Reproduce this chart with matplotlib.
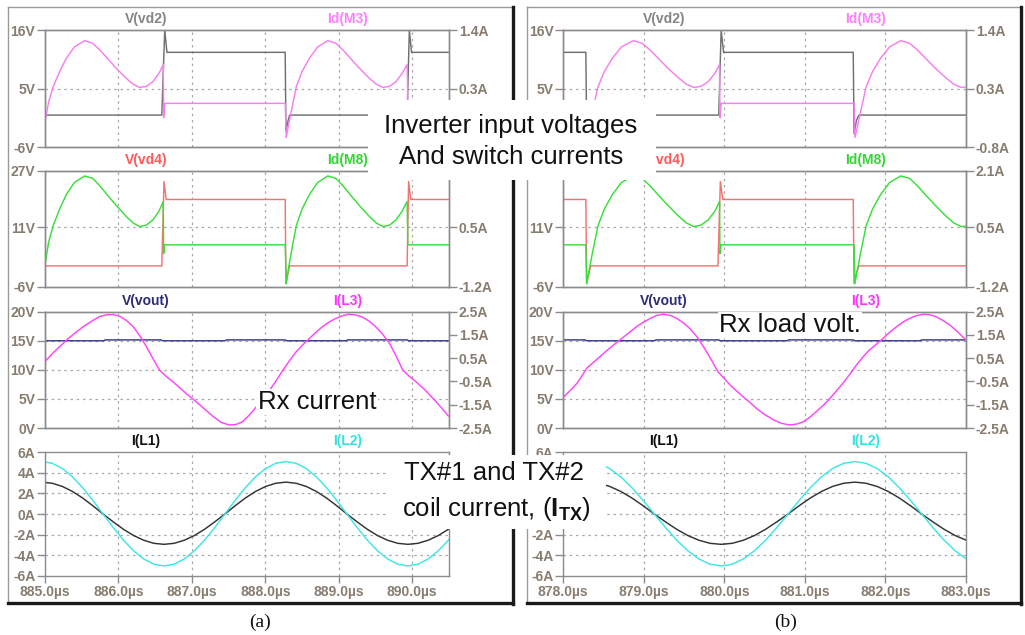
import numpy as np
import matplotlib
matplotlib.use("Agg")
import matplotlib.pyplot as plt
from matplotlib.patches import Rectangle
from matplotlib.lines import Line2D

plt.rcParams['font.family'] = ['Liberation Sans', 'DejaVu Sans']
plt.rcParams['mathtext.fontset'] = 'custom'
plt.rcParams['mathtext.rm'] = 'Liberation Sans'
plt.rcParams['mathtext.bf'] = 'Liberation Sans:bold'
plt.rcParams['mathtext.it'] = 'Liberation Sans:italic'

# ---------------- data : panel (a) ----------------
xlim_a = (885.0, 890.5)
xticks_a = [885.0, 886.0, 887.0, 888.0, 889.0, 890.0]
xticklabels_a = ["885.0µs", "886.0µs", "887.0µs", "888.0µs", "889.0µs", "890.0µs"]

vd2_t_a = [885.0, 886.59, 886.63, 886.66, 888.27, 888.28, 888.31, 888.33, 889.93, 889.96, 889.99, 890.5]
vd2_v_a = [0.0, 0.0, 16.0, 11.8, 11.8, -3.0, -1.0, 0.0, 0.0, 16.0, 11.8, 11.8]

m3_t_a = [885.00, 885.05, 885.11, 885.20, 885.29, 885.40, 885.54, 885.65, 885.75, 885.86, 885.97,
          886.10, 886.20, 886.29, 886.38, 886.47, 886.55, 886.61, 886.615, 886.63,
          888.27, 888.285, 888.30, 888.35, 888.42, 888.50, 888.60, 888.71, 888.85, 888.96, 889.06,
          889.17, 889.28, 889.41, 889.51, 889.60, 889.69, 889.78, 889.86, 889.93, 889.94, 890.50]
m3_v_a = [-0.32, 0.05, 0.33, 0.62, 0.87, 1.08, 1.20, 1.15, 1.02, 0.85, 0.68,
          0.50, 0.38, 0.32, 0.34, 0.43, 0.58, 0.75, -0.25, 0.02,
          0.02, -0.62, -0.50, -0.15, 0.33, 0.62, 0.87, 1.08, 1.20, 1.15, 1.02,
          0.85, 0.68, 0.50, 0.38, 0.32, 0.34, 0.43, 0.58, 0.75, 0.02, 0.02]

vd4_t_a = [885.0, 886.59, 886.62, 886.65, 888.27, 888.28, 888.31, 888.33, 889.93, 889.95, 889.98, 890.5]
vd4_v_a = [0.0, 0.0, 24.0, 18.9, 18.9, -5.0, -2.0, 0.0, 0.0, 24.0, 18.9, 18.9]

m8_t_a = m3_t_a
m8_v_a = [-0.57, 0.08, 0.54, 1.02, 1.43, 1.77, 1.96, 1.89, 1.67, 1.39, 1.12,
          0.82, 0.62, 0.52, 0.56, 0.71, 0.95, 1.23, -0.25, 0.0,
          0.0, -1.11, -0.85, -0.25, 0.54, 1.02, 1.43, 1.77, 1.96, 1.89, 1.67,
          1.39, 1.12, 0.82, 0.62, 0.52, 0.56, 0.71, 0.95, 1.23, 0.0, 0.0]

vout_t_a = [885.0, 885.80, 885.82, 886.58, 886.60, 887.45, 887.47, 888.27, 888.29, 889.10, 889.12, 889.93, 889.95, 890.5]
vout_v_a = [15.0, 15.0, 15.15, 15.15, 15.0, 15.0, 15.15, 15.15, 15.0, 15.0, 15.15, 15.15, 15.0, 15.0]

l3_t_a = [885.01, 885.10, 885.20, 885.31, 885.43, 885.55, 885.66, 885.75, 885.84, 885.93, 886.02,
          886.11, 886.20, 886.29, 886.38, 886.47, 886.56, 886.65, 886.74, 886.92, 887.11,
          887.29, 887.40, 887.51, 887.60, 887.69, 887.78, 887.88, 887.97, 888.06, 888.15,
          888.24, 888.33, 888.42, 888.51, 888.60, 888.69, 888.78, 888.87, 888.96, 889.05,
          889.14, 889.23, 889.32, 889.41, 889.50, 889.60, 889.69, 889.78, 889.87, 889.96,
          890.05, 890.17, 890.28, 890.39, 890.49]
l3_v_a = [0.39, 0.70, 1.00, 1.33, 1.64, 1.92, 2.14, 2.30, 2.37, 2.38, 2.30,
          2.12, 1.86, 1.47, 1.00, 0.48, -0.01, -0.28, -0.51, -1.01, -1.51,
          -2.01, -2.26, -2.37, -2.35, -2.23, -1.95, -1.58, -1.23, -0.87, -0.45,
          -0.01, 0.40, 0.78, 1.08, 1.35, 1.62, 1.86, 2.06, 2.21, 2.33,
          2.39, 2.36, 2.27, 2.10, 1.86, 1.52, 1.14, 0.60, -0.01, -0.28,
          -0.51, -0.85, -1.22, -1.60, -1.98]

l_t_a = np.linspace(884.96, 890.632, 42)
l1_v_a = [3.10, 2.99, 2.68, 2.19, 1.55, 0.80, 0.00, -0.76, -1.48, -2.09, -2.55, -2.85,
          -2.95, -2.85, -2.55, -2.09, -1.48, -0.76, 0.00, 0.80, 1.55, 2.19, 2.68, 2.99,
          3.10, 2.99, 2.68, 2.19, 1.55, 0.80, 0.00, -0.76, -1.48, -2.09, -2.55, -2.85,
          -2.95, -2.85, -2.55, -2.09, -1.48, -0.76]
l2_v_a = [5.10, 4.93, 4.42, 3.61, 2.55, 1.32, 0.00, -1.31, -2.53, -3.57, -4.37, -4.88,
          -5.05, -4.88, -4.37, -3.57, -2.53, -1.31, 0.00, 1.32, 2.55, 3.61, 4.42, 4.93,
          5.10, 4.93, 4.42, 3.61, 2.55, 1.32, 0.00, -1.31, -2.53, -3.57, -4.37, -4.88,
          -5.05, -4.88, -4.37, -3.57, -2.53, -1.31]

# ---------------- data : panel (b) ----------------
xlim_b = (878.0, 883.0)
xticks_b = [878.0, 879.0, 880.0, 881.0, 882.0, 883.0]
xticklabels_b = ["878.0µs", "879.0µs", "880.0µs", "881.0µs", "882.0µs", "883.0µs"]

vd2_t_b = [878.0, 878.28, 878.29, 878.32, 878.34, 879.93, 879.96, 879.99, 881.60, 881.61, 881.64, 881.67, 883.0]
vd2_v_b = [11.8, 11.8, -3.0, -1.0, 0.0, 0.0, 16.0, 11.8, 11.8, -3.5, -1.0, 0.0, 0.0]

m3_t_b = [878.00, 878.28, 878.29, 878.31, 878.36, 878.43, 878.51, 878.61, 878.72, 878.87, 878.98,
          879.08, 879.19, 879.30, 879.43, 879.53, 879.62, 879.71, 879.80, 879.88, 879.94, 879.945,
          879.96, 881.61, 881.62, 881.64, 881.69, 881.76, 881.84, 881.94, 882.05, 882.19, 882.30,
          882.40, 882.51, 882.62, 882.75, 882.85, 882.94, 883.00]
m3_v_b = [0.02, 0.02, -0.62, -0.50, -0.15, 0.33, 0.62, 0.87, 1.08, 1.20, 1.15,
          1.02, 0.85, 0.68, 0.50, 0.38, 0.32, 0.34, 0.43, 0.58, 0.75, -0.25,
          0.02, 0.02, -0.62, -0.50, -0.15, 0.33, 0.62, 0.87, 1.08, 1.20, 1.15,
          1.02, 0.85, 0.68, 0.50, 0.38, 0.32, 0.33]

vd4_t_b = [878.0, 878.28, 878.29, 878.32, 878.34, 879.92, 879.95, 879.98, 881.60, 881.61, 881.64, 881.67, 883.0]
vd4_v_b = [18.9, 18.9, -5.0, -2.0, 0.0, 0.0, 24.0, 18.9, 18.9, -5.0, -2.0, 0.0, 0.0]

m8_t_b = m3_t_b
m8_v_b = [0.0, 0.0, -1.11, -0.85, -0.25, 0.54, 1.02, 1.43, 1.77, 1.96, 1.89,
          1.67, 1.39, 1.12, 0.82, 0.62, 0.52, 0.56, 0.71, 0.95, 1.23, -0.25,
          0.0, 0.0, -1.11, -0.85, -0.25, 0.54, 1.02, 1.43, 1.77, 1.96, 1.89,
          1.67, 1.39, 1.12, 0.82, 0.62, 0.52, 0.53]

vout_t_b = [878.0, 878.27, 878.29, 879.13, 879.15, 879.93, 879.95, 880.78, 880.80, 881.60, 881.62, 882.43, 882.45, 883.0]
vout_v_b = [15.15, 15.15, 15.0, 15.0, 15.15, 15.15, 15.0, 15.0, 15.15, 15.15, 15.0, 15.0, 15.15, 15.15]

l3_t_b = [878.01, 878.09, 878.17, 878.23, 878.29, 878.40, 878.50, 878.60, 878.70, 878.81, 878.91,
          879.00, 879.08, 879.16, 879.24, 879.33, 879.41, 879.49, 879.57, 879.66, 879.74,
          879.83, 879.92, 880.00, 880.07, 880.15, 880.23, 880.32, 880.40, 880.50, 880.61,
          880.71, 880.81, 880.90, 880.98, 881.06, 881.14, 881.23, 881.31, 881.39, 881.47,
          881.56, 881.64, 881.72, 881.80, 881.89, 881.97, 882.05, 882.14, 882.22, 882.30,
          882.38, 882.47, 882.55, 882.63, 882.71, 882.80, 882.90, 883.00]
l3_v_b = [-1.15, -0.87, -0.58, -0.27, 0.07, 0.40, 0.71, 1.00, 1.28, 1.58, 1.86,
          2.06, 2.21, 2.34, 2.39, 2.34, 2.21, 2.02, 1.78, 1.42, 1.00,
          0.48, -0.08, -0.38, -0.65, -0.90, -1.15, -1.41, -1.66, -1.92, -2.15,
          -2.30, -2.37, -2.33, -2.23, -2.04, -1.80, -1.52, -1.23, -0.91, -0.58,
          -0.18, 0.21, 0.55, 0.85, 1.11, 1.35, 1.61, 1.86, 2.06, 2.21,
          2.33, 2.39, 2.37, 2.29, 2.13, 1.93, 1.62, 1.28]

l_t_b = np.linspace(877.885, 883.003, 38)
l1_v_b = [2.19, 2.68, 2.99, 3.10, 2.99, 2.68, 2.19, 1.55, 0.80, 0.00, -0.76, -1.48, -2.09,
          -2.55, -2.85, -2.95, -2.85, -2.55, -2.09, -1.48, -0.76, 0.00, 0.80, 1.55, 2.19,
          2.68, 2.99, 3.10, 2.99, 2.68, 2.19, 1.55, 0.80, 0.00, -0.76, -1.48, -2.09, -2.55]
l2_v_b = [3.61, 4.42, 4.93, 5.10, 4.93, 4.42, 3.61, 2.55, 1.32, 0.00, -1.31, -2.53, -3.57,
          -4.37, -4.88, -5.05, -4.88, -4.37, -3.57, -2.53, -1.31, 0.00, 1.32, 2.55, 3.61,
          4.42, 4.93, 5.10, 4.93, 4.42, 3.61, 2.55, 1.32, 0.00, -1.31, -2.53, -3.57, -4.37]

# ---------------- axis scales / tick labels ----------------
pane_left_lim = [(-6, 16), (-6, 27), (0, 20), (-6, 6)]
pane_left_ticks = [[-6, 5, 16], [-6, 11, 27], [0, 5, 10, 15, 20], [-6, -4, -2, 0, 2, 4, 6]]
pane_left_labels = [["-6V", "5V", "16V"], ["-6V", "11V", "27V"],
                    ["0V", "5V", "10V", "15V", "20V"],
                    ["-6A", "-4A", "-2A", "0A", "2A", "4A", "6A"]]
pane_right_lim = [(-0.8, 1.4), (-1.2, 2.1), (-2.5, 2.5), None]
pane_right_ticks = [[-0.8, 0.3, 1.4], [-1.2, 0.5, 2.1], [-2.5, -1.5, -0.5, 0.5, 1.5, 2.5], None]
pane_right_labels = [["-0.8A", "0.3A", "1.4A"], ["-1.2A", "0.5A", "2.1A"],
                     ["-2.5A", "-1.5A", "-0.5A", "0.5A", "1.5A", "2.5A"], None]
pane_grid = [[5], [11], [5, 10, 15], [-4, -2, 0, 2, 4]]
pane_names = [("V(vd2)", "Id(M3)"), ("V(vd4)", "Id(M8)"), ("V(vout)", "I(L3)"), ("I(L1)", "I(L2)")]
name_colors = [("#858585", "#ff80ff"), ("#ff5a5a", "#33d633"), ("#2b2b7a", "#ff33ff"), ("#111111", "#33e3e3")]
line_colors = [("#707070", "#f77ef2"), ("#f47272", "#3ade3a"), ("#3a3a88", "#ff44ff"), ("#333333", "#3ee6e6")]

# ---------------- layout ----------------
W, H = 1025, 635
fig = plt.figure(figsize=(W / 100, H / 100), dpi=100)
fig.patch.set_facecolor("white")


def rect(x0, y0, x1, y1):
    return [x0 / W, 1 - y1 / H, (x1 - x0) / W, (y1 - y0) / H]


def fline(x0, y0, x1, y1, **kw):
    fig.add_artist(Line2D([x0 / W, x1 / W], [1 - y0 / H, 1 - y1 / H], **kw))


TICKC = "#877c70"
SPINEC = "#8c8c8c"
GRIDC = "#a8a8a8"
TICKFS = 10

# panel frames
for (fx0, fx1) in [(8, 513), (527, 1021)]:
    fline(fx0, 7, fx1, 7, color="#9a9a9a", lw=1.0, zorder=0)
    fline(fx0, 7, fx0, 603, color="#9a9a9a", lw=1.0, zorder=0)
    fline(fx1, 7, fx1, 604, color="#1a1a1a", lw=2.4, zorder=0)
    fline(fx0, 603, fx1, 603, color="#1a1a1a", lw=2.4, zorder=0)

pane_y = [(30, 147), (171, 287), (311.7, 428), (452.3, 575.7)]

panels = [
    dict(x0=45, x1=449, xlim=xlim_a, xticks=xticks_a, xlabels=xticklabels_a,
         series=[((vd2_t_a, vd2_v_a), (m3_t_a, m3_v_a)),
                 ((vd4_t_a, vd4_v_a), (m8_t_a, m8_v_a)),
                 ((vout_t_a, vout_v_a), (l3_t_a, l3_v_a)),
                 ((l_t_a, l1_v_a), (l_t_a, l2_v_a))]),
    dict(x0=563.3, x1=966, xlim=xlim_b, xticks=xticks_b, xlabels=xticklabels_b,
         series=[((vd2_t_b, vd2_v_b), (m3_t_b, m3_v_b)),
                 ((vd4_t_b, vd4_v_b), (m8_t_b, m8_v_b)),
                 ((vout_t_b, vout_v_b), (l3_t_b, l3_v_b)),
                 ((l_t_b, l1_v_b), (l_t_b, l2_v_b))]),
]

tick_texts = []
for p in panels:
    for i, (y0, y1) in enumerate(pane_y):
        ax = fig.add_axes(rect(p["x0"], y0, p["x1"], y1))
        ax.set_facecolor("none")
        ax.set_xlim(*p["xlim"])
        ax.set_ylim(*pane_left_lim[i])
        for s in ax.spines.values():
            s.set_color(SPINEC)
            s.set_linewidth(1.0)
        ax.set_yticks(pane_left_ticks[i])
        tick_texts += ax.set_yticklabels(pane_left_labels[i], fontweight="bold", color=TICKC, fontsize=TICKFS)
        ax.tick_params(axis="y", direction="out", length=6, width=1, color=SPINEC, pad=1)
        ax.set_xticks(p["xticks"])
        if i == 3:
            ax.set_xticklabels(p["xlabels"], fontweight="bold", color=TICKC, fontsize=TICKFS)
            ax.tick_params(axis="x", direction="out", length=5, width=1, color=SPINEC, pad=2)
        else:
            ax.tick_params(axis="x", length=0, labelbottom=False)
        for xv in p["xticks"]:
            ax.axvline(xv, color=GRIDC, lw=0.9, ls=(0, (2, 3)), zorder=0.5)
        for yv in pane_grid[i]:
            ax.axhline(yv, color=GRIDC, lw=0.9, ls=(0, (2, 3)), zorder=0.5)

        (lt, lv), (rt, rv) = p["series"][i]
        c_left, c_right = line_colors[i]
        ax.plot(lt, lv, color=c_left, lw=1.05, zorder=2)
        if pane_right_lim[i] is not None:
            axr = ax.twinx()
            axr.set_ylim(*pane_right_lim[i])
            axr.set_yticks(pane_right_ticks[i])
            tick_texts += axr.set_yticklabels(pane_right_labels[i], fontweight="bold", color=TICKC, fontsize=TICKFS)
            axr.tick_params(axis="y", direction="out", length=6, width=1, color=SPINEC, pad=1)
            for s in axr.spines.values():
                s.set_color(SPINEC)
                s.set_linewidth(1.0)
            axr.plot(rt, rv, color=c_right, lw=1.05, zorder=2)
        else:
            ax.plot(rt, rv, color=c_right, lw=1.05, zorder=2)

        n_left, n_right = pane_names[i]
        cl, cr = name_colors[i]
        ax.annotate(n_left, xy=(0.25, 1.0), xycoords="axes fraction", xytext=(0, 5),
                    textcoords="offset points", ha="center", va="baseline",
                    fontsize=10, fontweight="bold", color=cl)
        ax.annotate(n_right, xy=(0.75, 1.0), xycoords="axes fraction", xytext=(0, 5),
                    textcoords="offset points", ha="center", va="baseline",
                    fontsize=10, fontweight="bold", color=cr)

# ---------------- overlay annotation boxes ----------------
boxes_px = [(368, 100, 656, 180), (389, 455, 606, 529)]
for (bx0, by0, bx1, by1) in boxes_px:
    fig.add_artist(Rectangle((bx0 / W, 1 - by1 / H), (bx1 - bx0) / W, (by1 - by0) / H,
                             transform=fig.transFigure, facecolor="white", edgecolor="none", zorder=20))

big = dict(fontsize=18.5, color="#111111", ha="center", va="center", zorder=30)
fig.text(511 / W, 1 - 126 / H, "Inverter input voltages", **big)
fig.text(511 / W, 1 - 157 / H, "And switch currents", **big)
fig.text(494 / W, 1 - 473 / H, "TX#1 and TX#2", **big)
fig.text(496 / W, 1 - 509 / H, r"coil current, ($\mathbf{I}_{\mathbf{TX}}$)", **big)
fig.text(317 / W, 1 - 402 / H, "Rx current",
         bbox=dict(facecolor="white", edgecolor="none", pad=1.0), **big)
fig.text(790 / W, 1 - 325 / H, "Rx load volt.",
         bbox=dict(facecolor="white", edgecolor="none", pad=1.0), **big)

fig.text(260 / W, 1 - 622 / H, "(a)", fontsize=14, family="Liberation Serif",
         ha="center", va="center", color="#111111")
fig.text(786 / W, 1 - 622 / H, "(b)", fontsize=14, family="Liberation Serif",
         ha="center", va="center", color="#111111")

# tick labels lying entirely under the white annotation boxes are not visible in the reference
fig.canvas.draw()
for t in tick_texts:
    bb = t.get_window_extent()
    top_px, bot_px = H - bb.y1, H - bb.y0
    for (bx0, by0, bx1, by1) in boxes_px:
        if bb.x0 >= bx0 - 1 and bb.x1 <= bx1 + 1 and top_px >= by0 - 1 and bot_px <= by1 + 1.5:
            t.set_visible(False)

fig.savefig("out.png", dpi=100, facecolor="white")
